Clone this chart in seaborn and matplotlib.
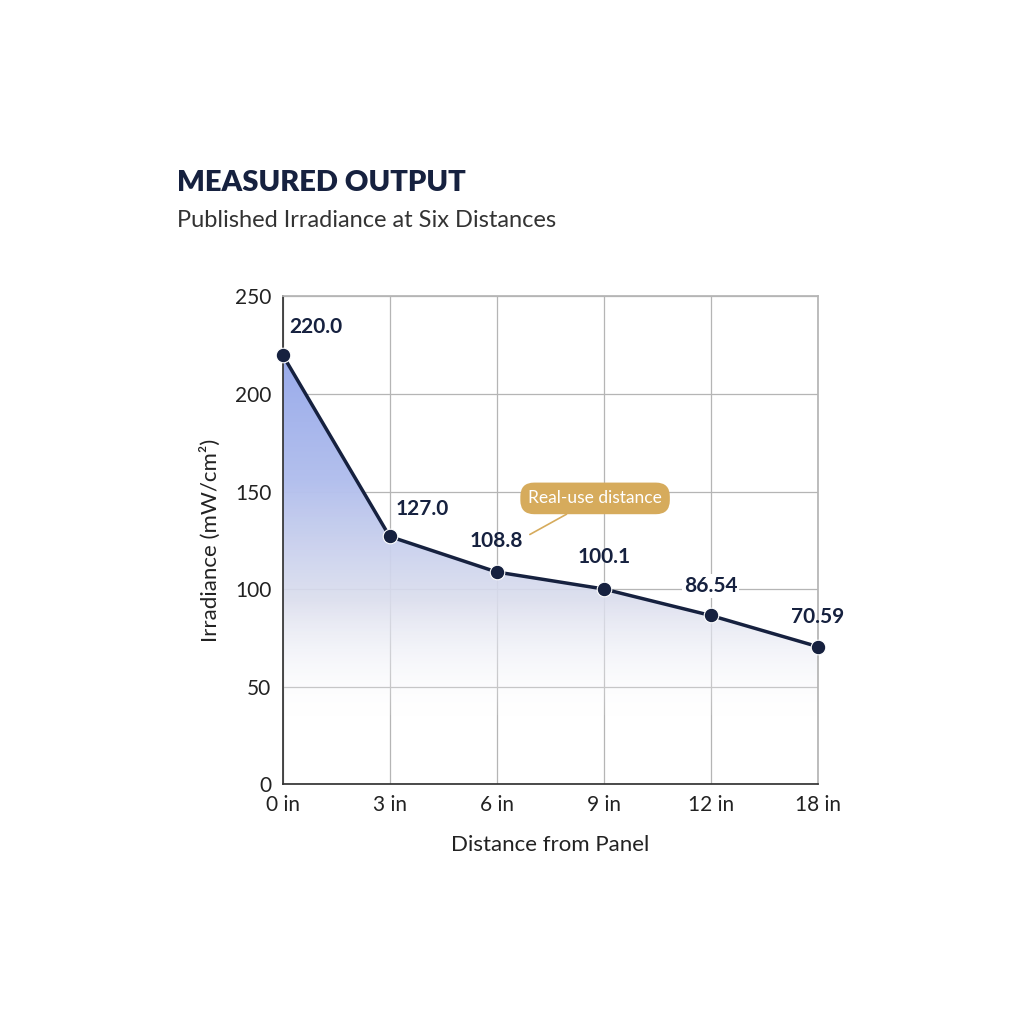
import matplotlib
matplotlib.use("Agg")
import matplotlib.pyplot as plt
import seaborn as sns
import numpy as np
import pandas as pd
from matplotlib.colors import LinearSegmentedColormap

distances = ["0 in", "3 in", "6 in", "9 in", "12 in", "18 in"]
irradiance = [220.0, 127.0, 108.8, 100.1, 86.54, 70.59]
labels = ["220.0", "127.0", "108.8", "100.1", "86.54", "70.59"]

sns.set_theme(style="white")
plt.rcParams['font.family'] = ['Lato', 'DejaVu Sans']
navy = "#16213f"

df = pd.DataFrame({"d": distances, "v": irradiance})
df["x"] = np.arange(len(df))

fig = plt.figure(figsize=(10.24, 10.24), dpi=100)
ax = fig.add_axes([0.276, 0.234, 0.5225, 0.4766])

# gradient fill
cmap = LinearSegmentedColormap.from_list("g", [(1, 1, 1, 0), (0.86, 0.87, 0.93, 0.9),
                                                (0.70, 0.75, 0.93, 1.0), (0.60, 0.67, 0.92, 1.0)])
grad = np.linspace(0, 250, 512).reshape(-1, 1)
grad = np.clip((grad - 30) / 190, 0, 1)
grad[(np.linspace(0, 250, 512) < 35)] = 0
im = ax.imshow(grad, extent=[0, 5, 0, 250], origin="lower", aspect="auto", cmap=cmap, vmin=0, vmax=1, zorder=1)
poly = ax.fill_between(df["x"], df["v"], 0, color="none")
im.set_clip_path(poly.get_paths()[0], transform=ax.transData)

sns.lineplot(data=df, x="x", y="v", ax=ax, color=navy, lw=2.5, zorder=3)
sns.scatterplot(data=df, x="x", y="v", ax=ax, color=navy, s=110, zorder=4, edgecolor="white", linewidth=0.8, clip_on=False)

offs = [(0.06, 9), (0.06, 9), (0.0, 11), (0.0, 11), (0.0, 10), (0.0, 10)]
for i, (v, t) in enumerate(zip(irradiance, labels)):
    dx, dy = offs[i]
    ha = "left" if i < 2 else "center"
    ax.text(i + dx, v + dy, t, ha=ha, va="bottom", fontsize=15, fontweight="bold", color=navy, zorder=5,
            bbox=dict(boxstyle="square,pad=0.1", fc="white", ec="none") if i == 4 else None)

ax.annotate("Real-use distance", xy=(2.31, 128), xytext=(2.92, 146.5), ha="center", va="center",
            fontsize=12.5, color="white",
            bbox=dict(boxstyle="round,pad=0.45,rounding_size=0.8", fc="#d6ab5c", ec="none"),
            arrowprops=dict(arrowstyle="-", color="#d6ab5c", lw=1.2, shrinkA=0, shrinkB=0), zorder=6)

ax.set_xlim(0, 5)
ax.set_ylim(0, 250)
ax.set_xticks(range(6))
ax.set_xticklabels(distances)
ax.set_yticks([0, 50, 100, 150, 200, 250])
ax.grid(True, color="#b5b5b5", lw=0.9)
ax.set_axisbelow(True)
for s in ax.spines.values():
    s.set_color("#b5b5b5")
ax.spines["left"].set_color("#333333")
ax.spines["bottom"].set_color("#333333")
ax.tick_params(labelsize=15, colors="#222222", length=0, pad=8)
ax.set_xlabel("Distance from Panel", fontsize=16, color="#222222", labelpad=14)
ax.set_ylabel("Irradiance (mW/cm²)", fontsize=16, color="#222222", labelpad=10)

fig.text(0.173, 0.813, "MEASURED OUTPUT", fontsize=21, fontweight="heavy", color=navy)
fig.text(0.173, 0.778, "Published Irradiance at Six Distances", fontsize=17, color="#333333")

fig.savefig("out.png", dpi=100, facecolor="white")
